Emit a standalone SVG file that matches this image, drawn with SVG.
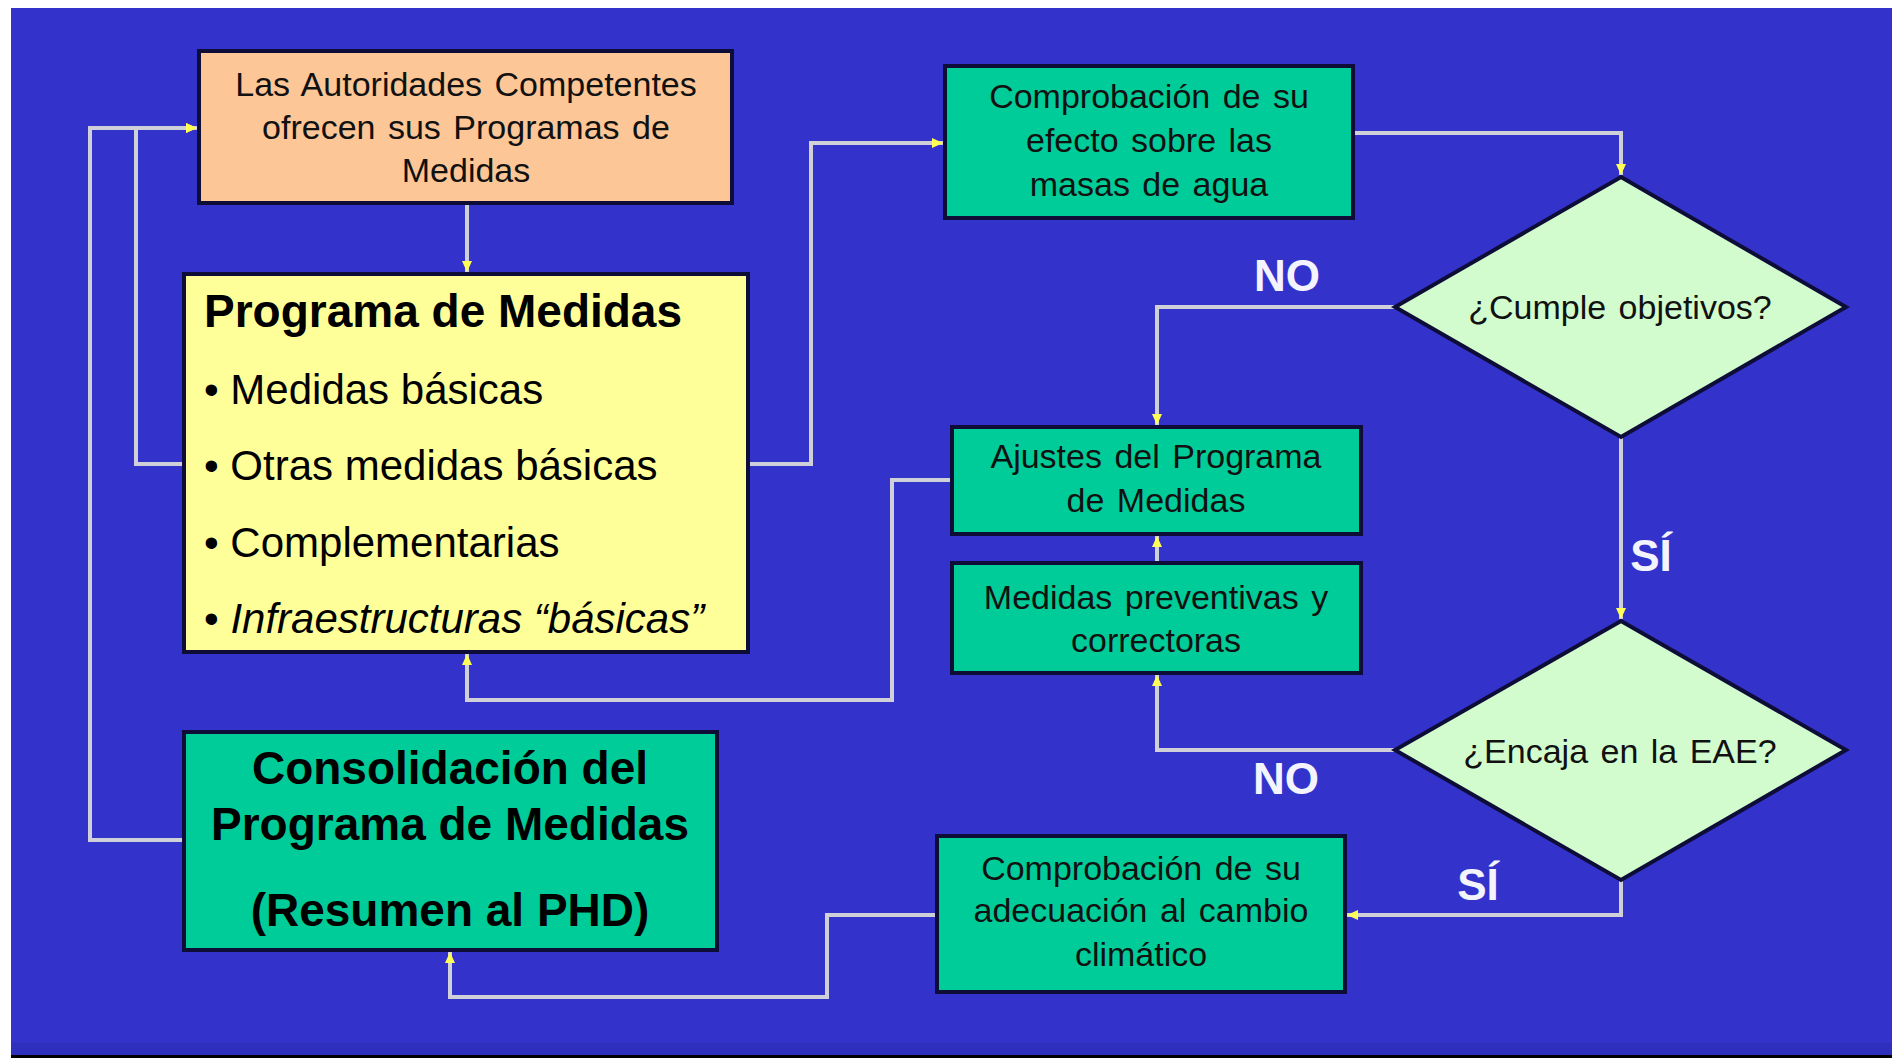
<svg xmlns="http://www.w3.org/2000/svg" width="1892" height="1058" viewBox="0 0 1892 1058">
<style>
  .box { stroke: #0d0d38; stroke-width: 4; }
  .orange { fill: #fcc696; }
  .yellow { fill: #ffff99; }
  .teal { fill: #00cc99; }
  .dia { fill: #d2fcce; stroke: #0d0d38; stroke-width: 4; }
  text { font-family: "Liberation Sans", Arial, sans-serif; }
  .t { font-size: 34px; fill: #111; text-anchor: middle; word-spacing: 3px; }
  .tb { font-size: 46px; font-weight: bold; fill: #000; }
  .tl { font-size: 42px; fill: #000; }
  .lbl { font-size: 44px; font-weight: bold; fill: #f4f4ff; text-anchor: middle; }
  .conn { fill: none; stroke: #d0d0d8; stroke-width: 4; marker-end: url(#arr); }
</style>
<defs>
  <marker id="arr" markerUnits="userSpaceOnUse" markerWidth="12" markerHeight="12" refX="11" refY="6" orient="auto">
    <path d="M0,1 L11,6 L0,11 z" fill="#ffff55"/>
  </marker>
</defs>
<rect x="0" y="0" width="1892" height="1058" fill="#ffffff"/>
<rect x="11" y="8" width="1881" height="1050" fill="#3333cc"/>
<rect x="11" y="1043" width="1881" height="12" fill="#2f2fbe"/>
<rect x="11" y="1055" width="1881" height="3" fill="#000000"/>

<g id="connectors">
  <path class="conn" d="M467,203 V272"/>
  <path class="conn" d="M748,464 H811 V143 H943"/>
  <path class="conn" d="M184,464 H136 V128 H197"/>
  <path class="conn" d="M184,840 H90 V128 H197"/>
  <path class="conn" d="M1353,133 H1621 V175"/>
  <path class="conn" d="M1395,307 H1157 V425"/>
  <path class="conn" d="M1621,437 V619"/>
  <path class="conn" d="M1395,750 H1157 V675"/>
  <path class="conn" d="M1157,563 V536"/>
  <path class="conn" d="M952,480 H892 V700 H467 V654"/>
  <path class="conn" d="M1621,880 V915 H1347"/>
  <path class="conn" d="M937,915 H827 V997 H450 V952"/>
</g>

<g id="labels">
  <text class="lbl" x="1287" y="291">NO</text>
  <text class="lbl" x="1651" y="571">SÍ</text>
  <text class="lbl" x="1286" y="794">NO</text>
  <text class="lbl" x="1478" y="900">SÍ</text>
</g>

<g id="autoridades">
  <rect class="box orange" x="199" y="51" width="533" height="152"/>
  <text class="t" x="466" y="96">Las Autoridades Competentes</text>
  <text class="t" x="466" y="139">ofrecen sus Programas de</text>
  <text class="t" x="466" y="182">Medidas</text>
</g>

<g id="programa">
  <rect class="box yellow" x="184" y="274" width="564" height="378"/>
  <text class="tb" x="204" y="327">Programa de Medidas</text>
  <text class="tl" x="204" y="404">• Medidas básicas</text>
  <text class="tl" x="204" y="480">• Otras medidas básicas</text>
  <text class="tl" x="204" y="557">• Complementarias</text>
  <text class="tl" x="204" y="633">• <tspan font-style="italic">Infraestructuras “básicas”</tspan></text>
</g>

<g id="consolidacion">
  <rect class="box teal" x="184" y="732" width="533" height="218"/>
  <text class="tb" x="450" y="784" text-anchor="middle">Consolidación del</text>
  <text class="tb" x="450" y="840" text-anchor="middle">Programa de Medidas</text>
  <text class="tb" x="450" y="926" text-anchor="middle">(Resumen al PHD)</text>
</g>

<g id="comprobacion-efecto">
  <rect class="box teal" x="945" y="66" width="408" height="152"/>
  <text class="t" x="1149" y="108">Comprobación de su</text>
  <text class="t" x="1149" y="152">efecto sobre las</text>
  <text class="t" x="1149" y="196">masas de agua</text>
</g>

<g id="cumple">
  <polygon class="dia" points="1621,177 1846,307 1621,437 1395,307"/>
  <text class="t" x="1620" y="319">¿Cumple objetivos?</text>
</g>

<g id="ajustes">
  <rect class="box teal" x="952" y="427" width="409" height="107"/>
  <text class="t" x="1156" y="468">Ajustes del Programa</text>
  <text class="t" x="1156" y="512">de Medidas</text>
</g>

<g id="preventivas">
  <rect class="box teal" x="952" y="563" width="409" height="110"/>
  <text class="t" x="1156" y="609">Medidas preventivas y</text>
  <text class="t" x="1156" y="652">correctoras</text>
</g>

<g id="encaja">
  <polygon class="dia" points="1621,621 1846,750 1621,880 1395,750"/>
  <text class="t" x="1620" y="763">¿Encaja en la EAE?</text>
</g>

<g id="comprobacion-clima">
  <rect class="box teal" x="937" y="836" width="408" height="156"/>
  <text class="t" x="1141" y="880">Comprobación de su</text>
  <text class="t" x="1141" y="922">adecuación al cambio</text>
  <text class="t" x="1141" y="966">climático</text>
</g>
</svg>
